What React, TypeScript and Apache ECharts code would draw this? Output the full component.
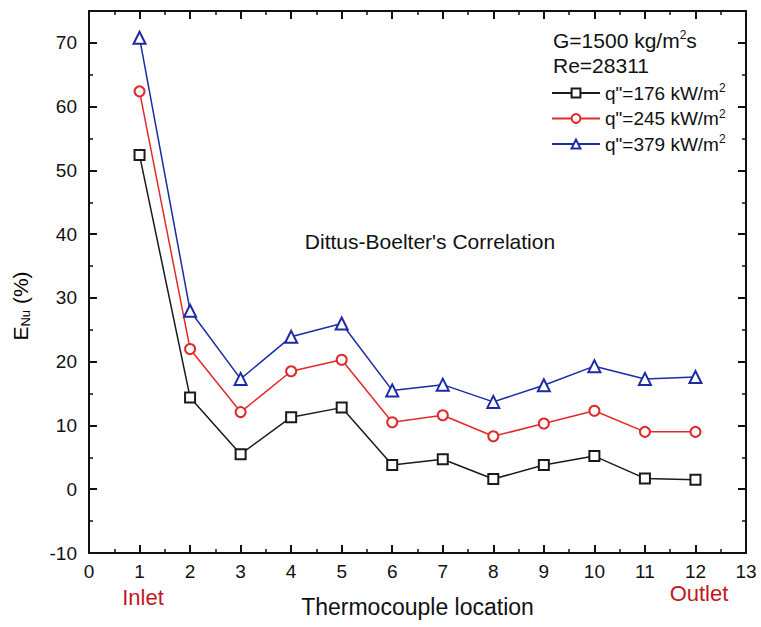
import React, { useEffect, useRef } from "react";
import * as echarts from "echarts";

const locations = [1, 2, 3, 4, 5, 6, 7, 8, 9, 10, 11, 12];
const q176 = [52.4, 14.4, 5.5, 11.3, 12.8, 3.8, 4.7, 1.6, 3.8, 5.2, 1.7, 1.5];
const q245 = [62.4, 22.0, 12.1, 18.5, 20.3, 10.5, 11.6, 8.3, 10.3, 12.3, 9.0, 9.0];
const q379 = [70.8, 28.0, 17.3, 23.9, 26.0, 15.5, 16.4, 13.7, 16.3, 19.3, 17.3, 17.6];
const seriesNames = ['q"=176 kW/m2', 'q"=245 kW/m2', 'q"=379 kW/m2'];
const legendLabels = ['q"=176 kW/m{sup|2}', 'q"=245 kW/m{sup|2}', 'q"=379 kW/m{sup|2}'];
const seriesColors = ["#1a1a1a", "#e02a2a", "#1c2aa6"];
const seriesSymbols = ["emptyRect", "emptyCircle", "emptyTriangle"];

const FONT = "Liberation Sans, Arial, sans-serif";

export default function App() {
  const ref = useRef<HTMLDivElement>(null);
  useEffect(() => {
    if (!ref.current) return;
    const chart = echarts.init(ref.current, null, { renderer: "svg" });
    const data = [q176, q245, q379];
    const axisLine = { show: true, onZero: false, lineStyle: { color: "#111", width: 2 } };
    const xCommon = {
      type: "value",
      min: 0,
      max: 13,
      interval: 1,
      axisLine,
      splitLine: { show: false },
      axisTick: { show: true, inside: true, length: 8, lineStyle: { color: "#111", width: 2 } },
      minorTick: { show: true, splitNumber: 2, length: 4, lineStyle: { color: "#111", width: 1.5 } },
    };
    const yCommon = {
      type: "value",
      min: -10,
      max: 75,
      interval: 10,
      axisLine,
      splitLine: { show: false },
      axisTick: { show: true, inside: true, length: 8, lineStyle: { color: "#111", width: 2 } },
      minorTick: { show: true, splitNumber: 2, length: 4, lineStyle: { color: "#111", width: 1.5 } },
    };
    const supStyle = { fontSize: 12, verticalAlign: "top", padding: [0, 0, 10, 0], color: "#111", fontFamily: FONT };
    chart.setOption({
      animation: false,
      backgroundColor: "#ffffff",
      textStyle: { fontFamily: FONT },
      grid: { left: 89, top: 11, right: 15, bottom: 74 },
      xAxis: [
        {
          ...xCommon,
          position: "bottom",
          axisLabel: { show: true, color: "#111", fontSize: 19, margin: 9, fontFamily: FONT },
          name: "Thermocouple location",
          nameLocation: "middle",
          nameGap: 42,
          nameTextStyle: { color: "#111", fontSize: 23, fontFamily: FONT },
        },
        {
          ...xCommon,
          position: "top",
          axisLabel: { show: false },
        },
      ],
      yAxis: [
        {
          ...yCommon,
          position: "left",
          axisLabel: { show: true, color: "#111", fontSize: 19, margin: 12, showMaxLabel: false, fontFamily: FONT },
        },
        {
          ...yCommon,
          position: "right",
          axisLabel: { show: false },
        },
      ],
      legend: {
        show: true,
        orient: "vertical",
        left: 546,
        top: 77,
        itemWidth: 48,
        itemHeight: 11,
        itemGap: 5,
        data: seriesNames,
        formatter: (name: string) => legendLabels[seriesNames.indexOf(name)],
        textStyle: {
          color: "#111",
          fontSize: 19,
          fontFamily: FONT,
          rich: { sup: supStyle },
        },
      },
      graphic: [
        {
          type: "text",
          x: 553,
          y: 40,
          style: {
            text: "G=1500 kg/m{sup|2}s",
            fill: "#111",
            fontSize: 21,
            fontFamily: FONT,
            verticalAlign: "middle",
            rich: { sup: { ...supStyle, fill: "#111" } },
          },
        },
        {
          type: "text",
          x: 553,
          y: 65,
          style: { text: "Re=28311", fill: "#111", fontSize: 21, fontFamily: FONT, verticalAlign: "middle" },
        },
        {
          type: "text",
          x: 20,
          y: 306,
          rotation: Math.PI / 2,
          style: {
            text: "E{sub|Nu} (%)",
            fill: "#000000",
            fontSize: 21,
            fontFamily: FONT,
            align: "center",
            verticalAlign: "middle",
            rich: {
              sub: { fontSize: 13, verticalAlign: "bottom", padding: [10, 0, 0, 0], fill: "#000000", fontFamily: FONT },
            },
          },
        },
        {
          type: "text",
          x: 430,
          y: 241,
          style: {
            text: "Dittus-Boelter's Correlation",
            fill: "#111",
            fontSize: 21,
            fontFamily: FONT,
            align: "center",
            verticalAlign: "middle",
          },
        },
        {
          type: "text",
          x: 143,
          y: 597,
          style: { text: "Inlet", fill: "#c0181e", fontSize: 22, fontFamily: FONT, align: "center", verticalAlign: "middle" },
        },
        {
          type: "text",
          x: 699,
          y: 593,
          style: { text: "Outlet", fill: "#c0181e", fontSize: 22, fontFamily: FONT, align: "center", verticalAlign: "middle" },
        },
      ],
      series: data.map((vals, i) => ({
        name: seriesNames[i],
        type: "line",
        data: locations.map((x, j) => [x, vals[j]]),
        symbol: seriesSymbols[i],
        symbolSize: i === 2 ? 12 : 10,
        showAllSymbol: true,
        lineStyle: { color: seriesColors[i], width: 1.5 },
        itemStyle: { color: seriesColors[i], borderWidth: 1.3 },
        emphasis: { disabled: true },
      })),
    });
    return () => chart.dispose();
  }, []);
  return (
    <div
      ref={ref}
      style={{ position: "fixed", left: 0, top: 0, width: 761, height: 627, background: "#fff" }}
    />
  );
}
